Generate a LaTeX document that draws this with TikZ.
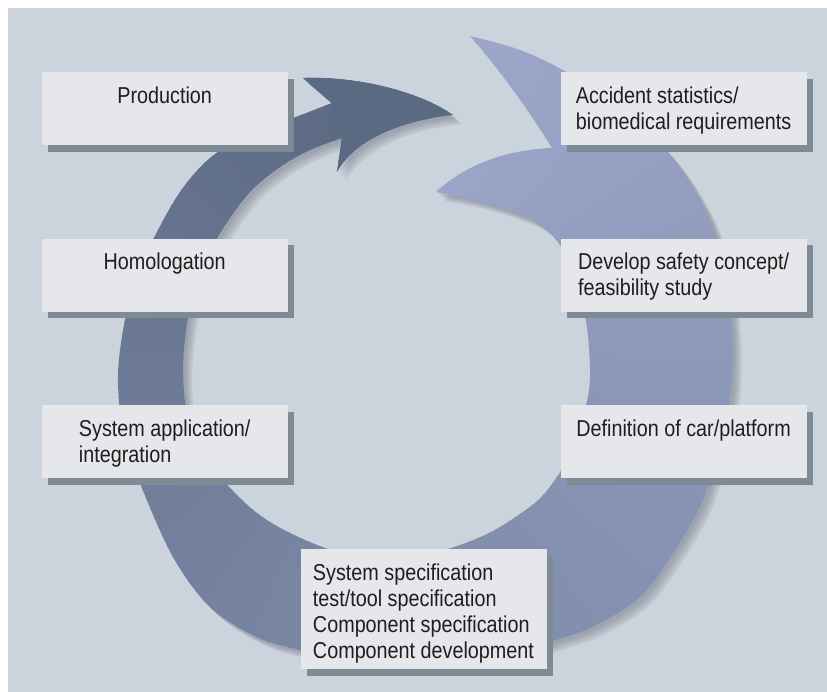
\documentclass[tikz,border=0pt]{standalone}
\usepackage{fontspec}
\setmainfont{Liberation Sans}[FakeStretch=0.86]
\usepackage{tikz}
\usetikzlibrary{positioning,shadows}

\definecolor{paneback}{HTML}{CBD3DC}
\definecolor{boxfill}{HTML}{E6E7EB}
\definecolor{boxshade}{HTML}{7E8B95}
\definecolor{ringlight}{HTML}{9DA7CA}
\definecolor{ringdark}{HTML}{586780}
\definecolor{ringshade}{HTML}{6E7480}
\definecolor{labeltext}{HTML}{1E1E1E}

% lines of a step, hung from the first baseline
\newcommand{\steplines}[1]{\begin{tabular}[t]{@{}l@{}}#1\end{tabular}}

% cycle arrow: outer edge from the tail round to the head, then the inner edge back
\newcommand{\cycleoutline}{%
  (470,36) -- plot[smooth, tension=0.55] coordinates {(470,36) (520,50) (566,72) (620,108)
    (670,155) (705,210) (724,265) (732,330) (731,390) (720,445) (703,500) (675,550)
    (640,597) (592,627) (553,641) (495,660) (430,666) (365,664) (300,650) (257,637)
    (210,607) (173,557) (140,483) (123,430) (118,375) (125,320) (138,278) (153,240)
    (180,192) (210,158) (250,133) (293,118) (332,103)}
  -- (303,78) .. controls (365,76) and (425,95) .. (453,115)
  .. controls (405,120) and (355,138) .. (337,172) -- (342,138)
  -- plot[smooth, tension=0.55] coordinates {(342,138) (310,150) (280,167) (250,192)
    (222,230) (200,272) (188,317) (183,370) (188,420) (203,455) (227,485) (257,513)
    (290,533) (335,551) (386,558) (437,552) (485,535) (520,514) (545,493) (570,455)
    (585,410) (590,377) (587,327) (577,285) (560,245) (533,220) (483,202) (436,192)}
  .. controls (465,165) and (505,150) .. (552,148)
  .. controls (530,112) and (500,70) .. (470,36) -- cycle}
% arrow head only
\newcommand{\headoutline}{%
  (332,103) -- (303,78) .. controls (365,76) and (425,95) .. (453,115)
  .. controls (405,120) and (355,138) .. (337,172) -- (342,138) -- cycle}

\begin{document}
\begin{tikzpicture}[
  x=1pt, y=-1pt,
  node distance=93pt and 272.5pt,
  box/.style={fill=boxfill, minimum width=246pt, inner xsep=8pt, inner ysep=12pt,
    text height=19pt, text depth=30pt, text=labeltext, font=\fontsize{23}{26}\selectfont,
    drop shadow={shadow xshift=6.5pt, shadow yshift=-6.5pt, fill=boxshade, opacity=1}}
]
\useasboundingbox (0,0) rectangle (827,692);
\fill[white] (0,0) rectangle (827,692);
\fill[paneback] (8,8) rectangle (827,692);

% soft shadow of the ring
\foreach \s in {3,5,7,9}
  \fill[ringshade, opacity=0.15, shift={(\s,\s)}] \cycleoutline;

% ring: colour runs from light at the tail to dark at the head
\begin{scope}
  \clip \cycleoutline;
  \foreach \i in {0,...,179}{
    \pgfmathtruncatemacro{\mix}{round(\i/1.79)}
    \fill[ringdark!\mix!ringlight] (386,352) -- +({80-2*\i}:500pt) -- +({77.4-2*\i}:500pt) -- cycle;
  }
\end{scope}
\fill[ringdark!96!ringlight] \headoutline;

% steps
\node[box, anchor=north west] (prod) at (41.5,72) {\steplines{Production}};
\node[box, below=of prod] (homol) {\steplines{Homologation}};
\node[box, below=of homol] (sysapp) {\steplines{System application/\\integration}};
\node[box, right=of prod] (accid) {\steplines{Accident statistics/\\biomedical requirements}};
\node[box, below=of accid] (devel) {\steplines{Develop safety concept/\\feasibility study}};
\node[box, below=of devel] (defin) {\steplines{Definition of car/platform}};
\node[box, text depth=77pt, anchor=north] (spec) at (423.5,549)
  {\steplines{System specification\\test/tool specification\\Component specification\\Component development}};
\end{tikzpicture}
\end{document}
